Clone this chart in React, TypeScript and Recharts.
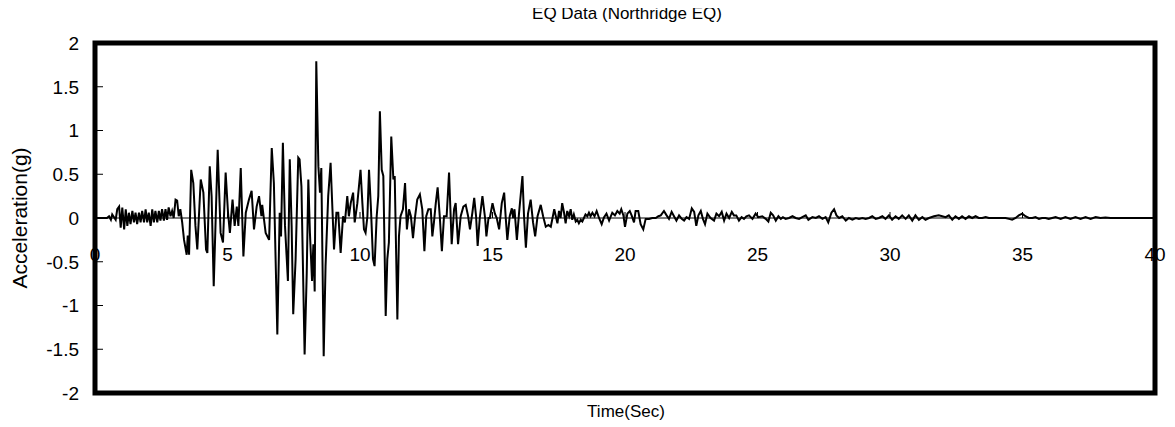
import { LineChart, Line, XAxis, YAxis, ReferenceLine, ReferenceArea, Customized } from 'recharts';

// [time (s), acceleration (g)]
const preEvent = [
  [0, 0], [0.45, 0], [0.53, 0.02], [0.6, -0.02], [0.65, 0.04], [0.78, -0.02], [0.84, 0.1], [0.91, 0.13],
  [0.97, -0.11], [1.03, 0.12], [1.1, -0.13], [1.16, 0.1], [1.22, -0.09], [1.28, 0.06], [1.34, -0.07],
  [1.41, 0.08], [1.47, -0.05], [1.53, 0.06], [1.59, -0.07], [1.66, 0.06], [1.72, -0.05], [1.78, 0.08],
  [1.85, -0.05], [1.91, 0.1], [1.97, -0.05], [2.03, 0.06], [2.1, -0.09], [2.16, 0.1], [2.22, -0.05],
  [2.28, 0.08], [2.35, -0.05], [2.41, 0.08], [2.47, -0.03], [2.53, 0.1], [2.6, -0.03], [2.66, 0.1],
  [2.72, -0.02], [2.78, 0.12], [2.85, 0.02], [2.91, 0.08], [2.97, 0.0], [3.04, 0.21], [3.1, 0.2],
  [3.16, 0.02], [3.22, 0.1], [3.29, -0.05],
];

const strongMotion = [
  [3.36, -0.25], [3.46, -0.42], [3.5, -0.2], [3.55, -0.42], [3.63, 0.55], [3.71, 0.4], [3.79, -0.09],
  [3.86, -0.36], [3.99, 0.44], [4.09, 0.29], [4.19, -0.36], [4.24, -0.4], [4.33, 0.59], [4.4, 0.25],
  [4.48, -0.78], [4.63, 0.78], [4.74, -0.17], [4.83, -0.28], [4.93, 0.52], [5.02, 0.06], [5.09, -0.17],
  [5.19, 0.21], [5.27, -0.09], [5.35, 0.13], [5.41, -0.09], [5.5, 0.57], [5.6, -0.44], [5.69, 0.06],
  [5.81, 0.21], [5.91, 0.31], [6.0, -0.13], [6.1, 0.13], [6.19, 0.25], [6.28, 0.02], [6.31, 0.15],
  [6.44, -0.17], [6.57, -0.25], [6.67, 0.8], [6.75, 0.4], [6.88, -1.33], [6.97, 0.06], [7.02, -0.21],
  [7.09, 0.86], [7.17, -0.09], [7.28, -0.72], [7.35, 0.67], [7.42, -0.09], [7.48, -1.1], [7.57, -0.47],
  [7.67, 0.69], [7.72, 0.67], [7.79, 0.36], [7.91, -1.56], [7.99, -0.63], [8.05, 0.44], [8.11, -0.17],
  [8.19, -0.72], [8.24, -0.3], [8.29, -0.84], [8.35, 1.79], [8.43, 0.59], [8.49, 0.29], [8.54, 0.57],
  [8.63, -1.58], [8.7, -0.55], [8.8, 0.25], [8.89, 0.63], [8.96, 0.1], [9.02, -0.36], [9.11, 0.06],
  [9.18, 0.06], [9.27, -0.4], [9.36, 0.02], [9.43, -0.05], [9.52, 0.25], [9.58, 0.02], [9.65, 0.17],
  [9.74, 0.29], [9.8, -0.05], [9.9, 0.17], [10.02, 0.55], [10.09, 0.17], [10.15, -0.13], [10.21, -0.17],
  [10.28, 0.02], [10.34, 0.55], [10.41, 0.13], [10.49, -0.47], [10.55, -0.55], [10.63, 0.02], [10.69, 0.25],
  [10.75, 1.22], [10.82, 0.55], [10.88, 0.48], [10.97, -1.12], [11.03, -0.47], [11.09, -0.28], [11.18, 0.93],
  [11.26, 0.44], [11.31, 0.48], [11.41, -1.16], [11.47, -0.21], [11.53, 0.02], [11.62, 0.1], [11.7, 0.4],
  [11.77, -0.13], [11.85, 0.1], [11.92, 0.02], [12.0, -0.23], [12.08, 0.02], [12.16, 0.21], [12.26, 0.27],
  [12.35, 0.1], [12.43, -0.38], [12.5, 0.02], [12.58, 0.1], [12.67, 0.1], [12.73, -0.21], [12.79, -0.05],
  [12.86, 0.17], [12.93, 0.35], [13.01, 0.02], [13.09, -0.38], [13.17, 0.02], [13.27, 0.02], [13.36, 0.52],
  [13.46, -0.3], [13.55, 0.1], [13.61, 0.17], [13.7, -0.3], [13.8, 0.02], [13.9, 0.13], [13.99, 0.15],
  [14.08, 0.02], [14.15, -0.13], [14.24, 0.06],
];

const coda = [
  [14.31, 0.23], [14.38, 0.02], [14.44, -0.32], [14.52, 0.0], [14.62, 0.25], [14.72, 0.0], [14.77, -0.21],
  [14.85, 0.0], [14.9, 0.0], [15.0, 0.17], [15.09, 0.05], [15.16, 0.0], [15.25, -0.13], [15.35, 0.17],
  [15.44, 0.29], [15.5, 0.0], [15.56, -0.25], [15.65, 0.02], [15.73, 0.11], [15.78, 0.0], [15.83, 0.1],
  [15.92, -0.25], [16.0, 0.05], [16.13, 0.48], [16.19, 0.02], [16.26, -0.34], [16.34, 0.05], [16.44, 0.21],
  [16.53, -0.05], [16.61, -0.21], [16.7, 0.02], [16.82, 0.15], [16.91, 0.02], [17.01, -0.1], [17.11, -0.08],
  [17.2, -0.1], [17.33, 0.1], [17.39, 0.02], [17.45, -0.06], [17.51, 0.08], [17.57, 0.0], [17.63, 0.17],
  [17.7, 0.06], [17.76, -0.06], [17.82, 0.08], [17.89, 0.02], [17.95, 0.1], [18.01, -0.02], [18.07, 0.04],
  [18.14, -0.04], [18.2, -0.02], [18.26, -0.06], [18.33, -0.02], [18.39, -0.04], [18.51, 0.04], [18.58, 0.02],
  [18.64, 0.06], [18.7, 0.02], [18.77, 0.06], [18.85, 0.02], [18.93, 0.08], [19.02, 0.0],
];

const tailA = [
  [19.12, -0.07], [19.21, 0.01], [19.3, 0.05], [19.4, -0.03], [19.52, 0.06], [19.62, 0.03], [19.71, 0.08],
  [19.8, 0.05], [19.86, 0.1], [19.94, 0.03], [20.0, -0.1], [20.09, 0.05], [20.18, 0.08], [20.25, 0.03],
  [20.34, -0.05], [20.4, 0.08], [20.5, 0.08], [20.59, -0.07], [20.69, -0.13], [20.78, -0.01], [20.91, -0.01],
  [21.03, 0.0], [21.16, 0.0], [21.26, 0.02], [21.35, 0.03], [21.47, 0.08], [21.57, 0.03], [21.66, -0.01],
  [21.76, 0.07], [21.85, 0.02], [21.94, -0.03], [22.04, 0.03], [22.14, -0.01], [22.23, -0.03], [22.32, 0.01],
  [22.42, -0.01], [22.52, 0.11], [22.61, 0.07], [22.69, -0.09], [22.77, 0.03], [22.86, 0.08], [22.94, -0.01],
  [23.02, -0.07], [23.11, 0.05], [23.23, 0.0], [23.36, -0.03], [23.45, 0.05], [23.55, 0.02], [23.65, 0.07],
  [23.74, -0.03], [23.83, 0.05], [23.93, 0.0], [24.03, 0.07], [24.11, 0.03], [24.2, 0.03], [24.3, -0.03],
  [24.4, 0.01], [24.49, -0.01], [24.58, 0.02], [24.68, 0.03], [24.81, -0.01], [24.93, 0.05], [25.03, 0.01],
  [25.18, 0.02], [25.31, -0.01], [25.41, -0.04], [25.5, 0.06], [25.59, 0.03], [25.69, -0.03], [25.79, 0.02],
  [25.88, -0.01], [25.96, 0.01], [26.06, -0.01], [26.19, 0.0], [26.32, 0.02], [26.44, 0.0], [26.57, -0.01],
  [26.69, 0.01], [26.82, 0.03], [26.92, -0.02], [27.07, 0.01], [27.2, 0.0], [27.32, 0.02], [27.45, -0.01],
  [27.57, 0.01], [27.67, -0.05], [27.79, 0.06], [27.89, 0.1], [27.98, 0.03], [28.08, 0.0], [28.2, 0.02],
  [28.33, -0.03], [28.45, 0.0], [28.58, -0.02], [28.71, 0.0], [28.83, -0.01], [28.96, 0.0], [29.08, -0.01],
  [29.21, 0.0], [29.33, 0.02], [29.46, -0.01],
];

const tailB = [
  [29.58, 0.0], [29.71, 0.02], [29.83, -0.01], [29.96, 0.03], [30.08, -0.02], [30.21, 0.02], [30.33, -0.01],
  [30.46, 0.03], [30.59, -0.01], [30.71, 0.03], [30.84, -0.03], [30.96, 0.03], [31.09, -0.02], [31.22, 0.01],
  [31.34, -0.02], [31.47, 0.0], [31.66, 0.02], [31.84, 0.03], [31.97, 0.02], [32.1, 0.01], [32.22, 0.03],
  [32.35, -0.02], [32.47, 0.02], [32.6, -0.01], [32.72, 0.02], [32.85, -0.01], [32.98, 0.02], [33.1, 0.0],
  [33.23, 0.02], [33.35, 0.0], [33.48, 0.0], [33.61, 0.01], [33.73, 0.0], [33.86, 0.0], [33.98, 0.0],
  [34.11, 0.0], [34.23, 0.0], [34.36, 0.0], [34.49, -0.01], [34.61, -0.02], [34.74, 0.0], [34.86, 0.03],
  [34.99, 0.05], [35.11, 0.02], [35.24, 0.0], [35.37, 0.0], [35.49, 0.01], [35.62, -0.01], [35.74, 0.0],
  [35.87, 0.0], [35.99, -0.01], [36.12, 0.0], [36.25, 0.01], [36.44, -0.01], [36.62, 0.01], [36.81, -0.01],
  [37.0, 0.01], [37.19, -0.01], [37.38, 0.01], [37.57, -0.01], [37.76, 0.01], [37.94, 0.0], [38.13, 0.005],
  [38.32, 0.0], [38.51, 0.0], [40, 0],
];

const xTicks = [0, 5, 10, 15, 20, 25, 30, 35, 40];
const yTicks = [-2, -1.5, -1, -0.5, 0, 0.5, 1, 1.5, 2];

const data = [...preEvent, ...strongMotion, ...coda, ...tailA, ...tailB].map(([t, g]) => ({ t, g }));

const font = '"Liberation Sans", Arial, sans-serif';

// x labels sit under the zero line, not at the bottom of the frame
const XTick = ({ x, y, payload }: any) => (
  <g>
    <line x1={x} x2={x} y1={y - 175} y2={y - 181} stroke="#000" strokeWidth={1} />
    <text x={x} y={y - 132} textAnchor="middle" fontSize={19} fontFamily={font} fill="#000">
      {payload.value}
    </text>
  </g>
);

const YTick = ({ x, y, payload }: any) => (
  <g>
    <line x1={x + 16} x2={x + 24} y1={y} y2={y} stroke="#000" strokeWidth={1} />
    <text x={x} y={y} dy="0.36em" textAnchor="end" fontSize={19} fontFamily={font} fill="#000">
      {payload.value}
    </text>
  </g>
);

const Titles = () => (
  <g fontFamily={font} fill="#000">
    <text x={627} y={19} textAnchor="middle" fontSize={17}>EQ Data (Northridge EQ)</text>
    <text x={626} y={417} textAnchor="middle" fontSize={17}>Time(Sec)</text>
    <text x={27} y={218} textAnchor="middle" fontSize={21} transform="rotate(-90 27 218)">Acceleration(g)</text>
  </g>
);

export default function App() {
  return (
    <div style={{ width: 1175, height: 427, margin: '-8px 0 0 -8px' }}>
      <LineChart width={1175} height={427} data={data} margin={{ top: 43, right: 20, bottom: 33, left: 0 }}>
        <XAxis
          dataKey="t"
          type="number"
          domain={[0, 40]}
          ticks={xTicks}
          interval={0}
          height={1}
          axisLine={false}
          tickLine={false}
          tickSize={0}
          tickMargin={0}
          tick={<XTick />}
        />
        <YAxis
          type="number"
          domain={[-2, 2]}
          ticks={yTicks}
          interval={0}
          width={95}
          axisLine={false}
          tickLine={false}
          tickSize={0}
          tickMargin={16}
          tick={<YTick />}
        />
        <ReferenceLine y={0} stroke="#000" strokeWidth={1} />
        <Line type="linear" dataKey="g" stroke="#000" strokeWidth={2} dot={false} isAnimationActive={false} />
        <ReferenceArea x1={0} x2={40} y1={-2} y2={2} fill="none" stroke="#000" strokeWidth={5} />
        <Customized component={Titles} />
      </LineChart>
    </div>
  );
}
